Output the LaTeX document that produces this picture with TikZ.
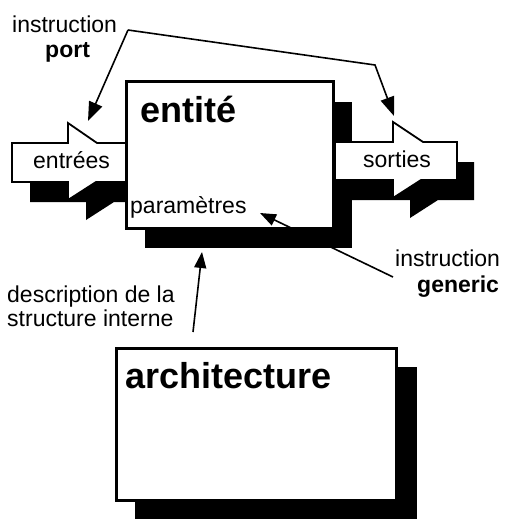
\documentclass[tikz,border=0pt]{standalone}
\usepackage{fontspec}
\setmainfont{Liberation Sans}
\usetikzlibrary{arrows.meta}
\begin{document}
\begin{tikzpicture}[x=1pt,y=-1pt,
  shadowfill/.style={fill=black,draw=none},
  boxstyle/.style={fill=white,draw=black,line width=3pt},
  arrowshape/.style={fill=white,draw=black,line width=1.8pt,line join=miter},
  lbl/.style={inner sep=0pt,anchor=base west,font=\fontsize{23}{26}\selectfont},
  lblb/.style={inner sep=0pt,anchor=base west,font=\fontsize{23}{26}\selectfont\bfseries},
  titlelbl/.style={inner sep=0pt,anchor=base west,font=\fontsize{36}{40}\selectfont\bfseries},
  conn/.style={line width=1.6pt,-{Triangle[length=19pt,width=14pt]}},
  connsmall/.style={line width=1.6pt,-{Triangle[length=16pt,width=12pt]}},
]
\useasboundingbox (0,0) rectangle (509,519);
% shadows
\fill[shadowfill] (145,102) rectangle (352,248);
\fill[shadowfill] (135,367) rectangle (417,522);
\fill[shadowfill,shift={(18,20)}] (12,143)--(68,143)--(68,123)--(97,143)--(130,143)--(130,182)--(96,182)--(68,200)--(68,182)--(12,182)--cycle;
\fill[shadowfill,shift={(17,20)}] (335,142)--(393,142)--(393,122)--(423,142)--(457,142)--(457,180)--(421,180)--(393,198)--(393,180)--(335,180)--cycle;
% arrows
\draw[arrowshape] (12,143)--(68,143)--(68,123)--(97,143)--(130,143)--(130,182)--(96,182)--(68,200)--(68,182)--(12,182)--cycle;
\draw[arrowshape] (335,142)--(393,142)--(393,122)--(423,142)--(457,142)--(457,180)--(421,180)--(393,198)--(393,180)--(335,180)--cycle;
% boxes
\draw[boxstyle] (126.5,81.5) rectangle (333.5,228.5);
\draw[boxstyle] (116.5,348.5) rectangle (396.5,500.5);
% texts
\node[titlelbl] (entite) at (140,122) {entité};
\node[titlelbl] (archi) at (125,388) {architecture};
\node[lbl] (entrees) at (33,168) {entrées};
\node[lbl] (sorties) at (363,167) {sorties};
\node[lbl] (param) at (130,213) {paramètres};
\node[lbl] (instr1) at (12,33) {instruction};
\node[lblb] (port) at (45,57) {port};
\node[lbl] (instr2) at (395,266) {instruction};
\node[lblb] (generic) at (417,292) {generic};
\node[lbl] (desc1) at (7,302) {description de la};
\node[lbl] (desc2) at (7,326) {structure interne};
% connector points
\coordinate (portsrc) at (128,30);
\coordinate (portbend) at (375,65);
\coordinate (intip) at (88,121);
\coordinate (outtip) at (394,116);
\coordinate (gensrc) at (393,277);
\coordinate (gentip) at (260,213);
\coordinate (descsrc) at (193,332);
\coordinate (desctip) at (202,252);
\draw[conn] (portsrc) -- (intip);
\draw[conn] (portsrc) -- (portbend) -- (outtip);
\draw[connsmall] (gensrc) -- (gentip);
\draw[connsmall] (descsrc) -- (desctip);
\end{tikzpicture}
\end{document}
